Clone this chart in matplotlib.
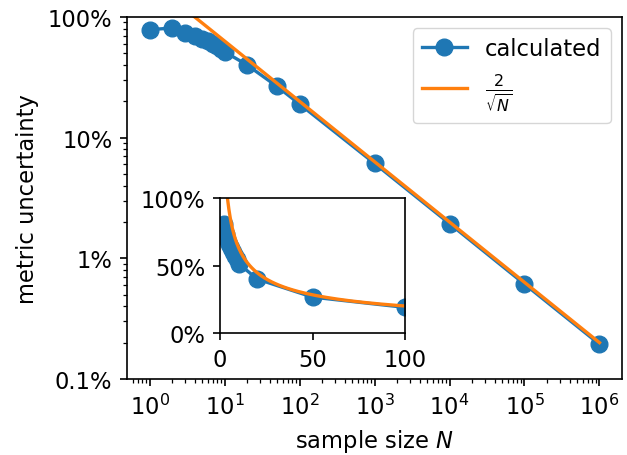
import numpy as np
import matplotlib
matplotlib.use("Agg")
import matplotlib.pyplot as plt

# sample sizes and calculated metric uncertainty
sample_size = [1, 2, 3, 4, 5, 6, 7, 8, 9, 10, 20, 50, 100, 1000, 10000, 100000, 1000000]
uncertainty = [0.785, 0.81, 0.73, 0.70, 0.66, 0.63, 0.60, 0.57, 0.545, 0.515, 0.40, 0.266, 0.19,
               0.0612, 0.0194, 0.00612, 0.00194]

# reference curve 2/sqrt(N)
n_ref = np.logspace(0, 6, 400)
ref = 2 / np.sqrt(n_ref)

plt.rcParams.update({
    "font.size": 16.3,
    "axes.linewidth": 1.2,
    "axes.labelpad": 6,
    "xtick.major.size": 5.25, "ytick.major.size": 5.25,
    "xtick.major.width": 1.2, "ytick.major.width": 1.2,
    "xtick.minor.size": 3, "ytick.minor.size": 3,
    "xtick.minor.width": 0.9, "ytick.minor.width": 0.9,
    "xtick.major.pad": 5.25, "ytick.major.pad": 5.25,
})

fig = plt.figure(figsize=(6.27, 4.56), dpi=100)
ax = fig.add_axes([0.2026, 0.1667, 0.7894, 0.7939])
ax.plot(sample_size, uncertainty, "o-", lw=2.4, ms=12, label="calculated")
ax.plot(n_ref, ref, lw=2.4, label=r"$\frac{2}{\sqrt{N}}$")
ax.set_xscale("log")
ax.set_yscale("log")
ax.set_ylim(0.001, 1)
ax.set_yticks([0.001, 0.01, 0.1, 1])
ax.set_yticklabels(["0.1%", "1%", "10%", "100%"])
ax.set_xticks([1e0, 1e1, 1e2, 1e3, 1e4, 1e5, 1e6])
ax.set_xlabel("sample size $N$")
ax.set_ylabel("metric uncertainty")
ax.legend(loc="upper right")

# inset with linear axes
axin = fig.add_axes([0.351, 0.2675, 0.295, 0.296])
axin.plot(sample_size, uncertainty, "o-", lw=2.4, ms=12)
axin.plot(n_ref, ref, lw=2.4)
axin.set_xlim(0, 100)
axin.set_ylim(0, 1)
axin.set_xticks([0, 50, 100])
axin.set_yticks([0, 0.5, 1])
axin.set_yticklabels(["0%", "50%", "100%"])

fig.savefig("out.png", dpi=100)
